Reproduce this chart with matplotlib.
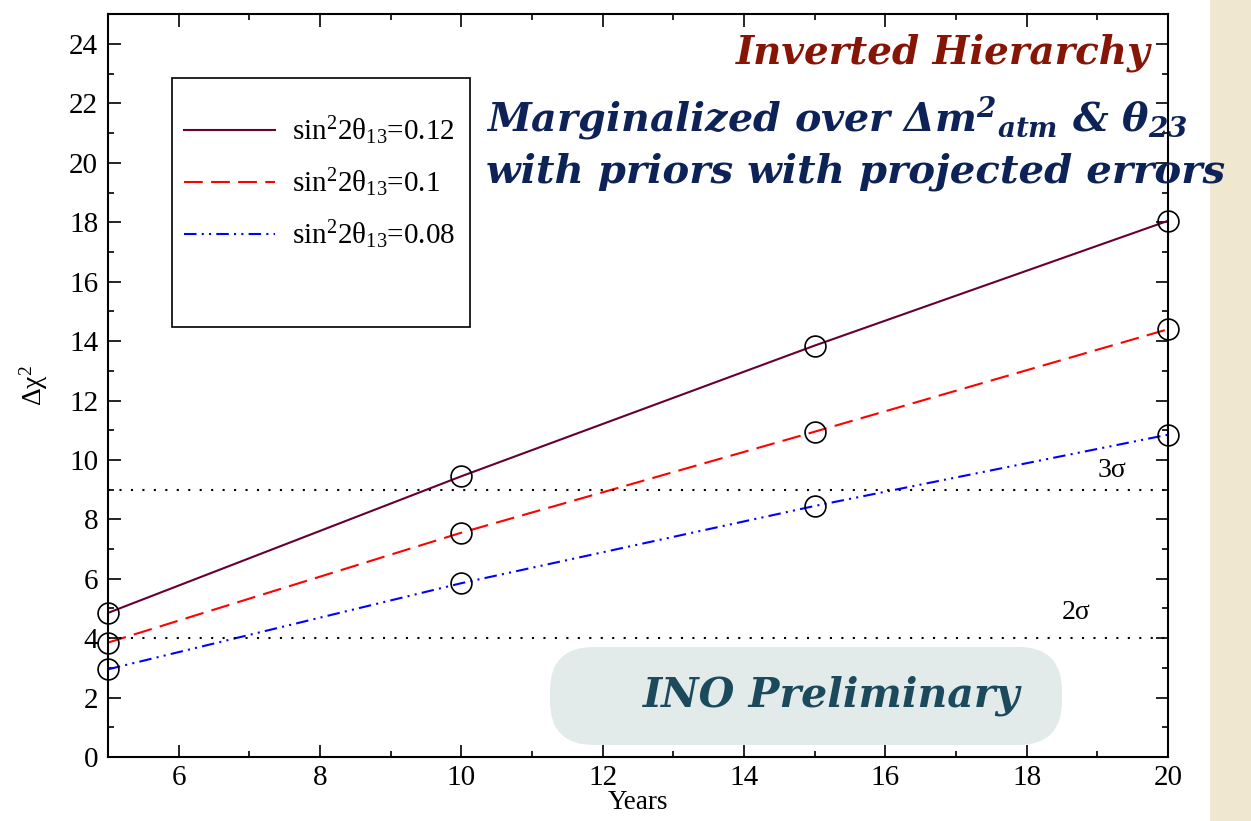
import numpy as np
import matplotlib.pyplot as plt
from matplotlib.patches import FancyBboxPatch, Rectangle
from matplotlib.ticker import MultipleLocator

plt.rcParams['font.family'] = ['Liberation Serif', 'DejaVu Serif']
plt.rcParams['mathtext.fontset'] = 'custom'
plt.rcParams['mathtext.rm'] = 'Liberation Serif'
plt.rcParams['mathtext.it'] = 'Liberation Serif:italic'
plt.rcParams['mathtext.bf'] = 'Liberation Serif:bold'
plt.rcParams['mathtext.bfit'] = 'DejaVu Serif:bold:italic'

years = [5, 10, 15, 20]
chi2_012 = [4.85, 9.45, 13.85, 18.05]
chi2_010 = [3.85, 7.55, 10.95, 14.4]
chi2_008 = [2.95, 5.85, 8.45, 10.85]
labels = [r'sin$^2$2θ$_{13}$=0.12', r'sin$^2$2θ$_{13}$=0.1', r'sin$^2$2θ$_{13}$=0.08']
sigma_levels = [4, 9]
sigma_labels = ['2σ', '3σ']

fig = plt.figure(figsize=(12.51, 8.21), dpi=100)
fig.patch.set_facecolor('white')
# beige strip on the right edge, kept under the axes and texts
fig.patches.append(Rectangle((0.967, 0), 0.033, 1, transform=fig.transFigure,
                             facecolor='#efe7cf', edgecolor='none', zorder=-1))

ax = fig.add_axes([0.0863, 0.0780, 0.8474, 0.9045])
ax.patch.set_alpha(0)

h1, = ax.plot(years, chi2_012, color='#660033', lw=1.5, ls='-')
h2, = ax.plot(years, chi2_010, color='#ff0000', lw=1.5, ls=(0, (9, 4)))
h3, = ax.plot(years, chi2_008, color='#0000ff', lw=1.5, ls=(0, (6, 2.5, 1, 2.5, 1, 2.5)))
for ys in (chi2_012, chi2_010, chi2_008):
    ax.plot(years, ys, ls='none', marker='o', ms=15, mfc='none', mec='black',
            mew=1.2, clip_on=False, zorder=5)

for lvl in sigma_levels:
    ax.axhline(lvl, color='black', lw=1.5, ls=(0, (1, 4.5)))
ax.text(18.7, 4.85, sigma_labels[0], fontsize=20, ha='center', va='center')
ax.text(19.2, 9.65, sigma_labels[1], fontsize=20, ha='center', va='center')

ax.set_xlim(5, 20)
ax.set_ylim(0, 25)
ax.xaxis.set_minor_locator(MultipleLocator(1))
ax.yaxis.set_major_locator(MultipleLocator(2))
ax.yaxis.set_minor_locator(MultipleLocator(1))
ax.set_xticks([6, 8, 10, 12, 14, 16, 18, 20])
ax.tick_params(which='both', direction='in', top=True, right=True, labelsize=21,
               width=1.2, colors='black')
ax.tick_params(which='major', length=9)
ax.tick_params(which='minor', length=4.5)
ax.tick_params(axis='x', pad=6)
ax.tick_params(axis='y', pad=7)
for s in ax.spines.values():
    s.set_linewidth(1.5)

ax.set_xlabel('Years', fontsize=19.5, labelpad=-1)
ax.set_ylabel(r'Δχ$^2$', fontsize=20, labelpad=14)

# legend frame with blank space below the entries
ax.add_patch(Rectangle((0.0604, 0.579), 0.2811, 0.3354, transform=ax.transAxes,
                       facecolor='white', edgecolor='black', lw=1.2, zorder=6))
leg = ax.legend([h1, h2, h3], labels, loc='upper left', bbox_to_anchor=(0.061, 0.881),
                borderaxespad=0, frameon=False, fontsize=21, handlelength=3.1,
                handletextpad=0.6, labelspacing=0.66)
leg.set_zorder(7)

ax.text(0.983, 0.948, 'Inverted Hierarchy', transform=ax.transAxes, ha='right', va='center',
        fontsize=28, fontweight='bold', style='italic', family='DejaVu Serif',
        color='#861506', zorder=8)
ax.text(0.357, 0.861, r'Marginalized over $\mathbfit{\Delta m^{2}{}_{atm}}$ & $\mathbfit{\theta_{23}}$',
        transform=ax.transAxes, ha='left', va='center', fontsize=28.5, fontweight='bold',
        style='italic', family='DejaVu Serif', color='#0d2358', zorder=8)
ax.text(0.357, 0.788, 'with priors with projected errors', transform=ax.transAxes,
        ha='left', va='center', fontsize=29, fontweight='bold', style='italic',
        family='DejaVu Serif', color='#0d2358', zorder=8)

# rounded label box
box = FancyBboxPatch((0.4396, 0.0926), 0.4093, 0.1194, transform=fig.transFigure,
                     boxstyle='round,pad=0,rounding_size=0.035', mutation_aspect=1251 / 821,
                     facecolor='#e3eaea', edgecolor='none', zorder=0.5, clip_on=False)
ax.add_patch(box)
ax.text(0.683, 0.083, 'INO Preliminary', transform=ax.transAxes, ha='center', va='center',
        fontsize=29.5, fontweight='bold', style='italic', family='DejaVu Serif',
        color='#1b4a5c', zorder=8)

fig.savefig('out.png', dpi=100)
